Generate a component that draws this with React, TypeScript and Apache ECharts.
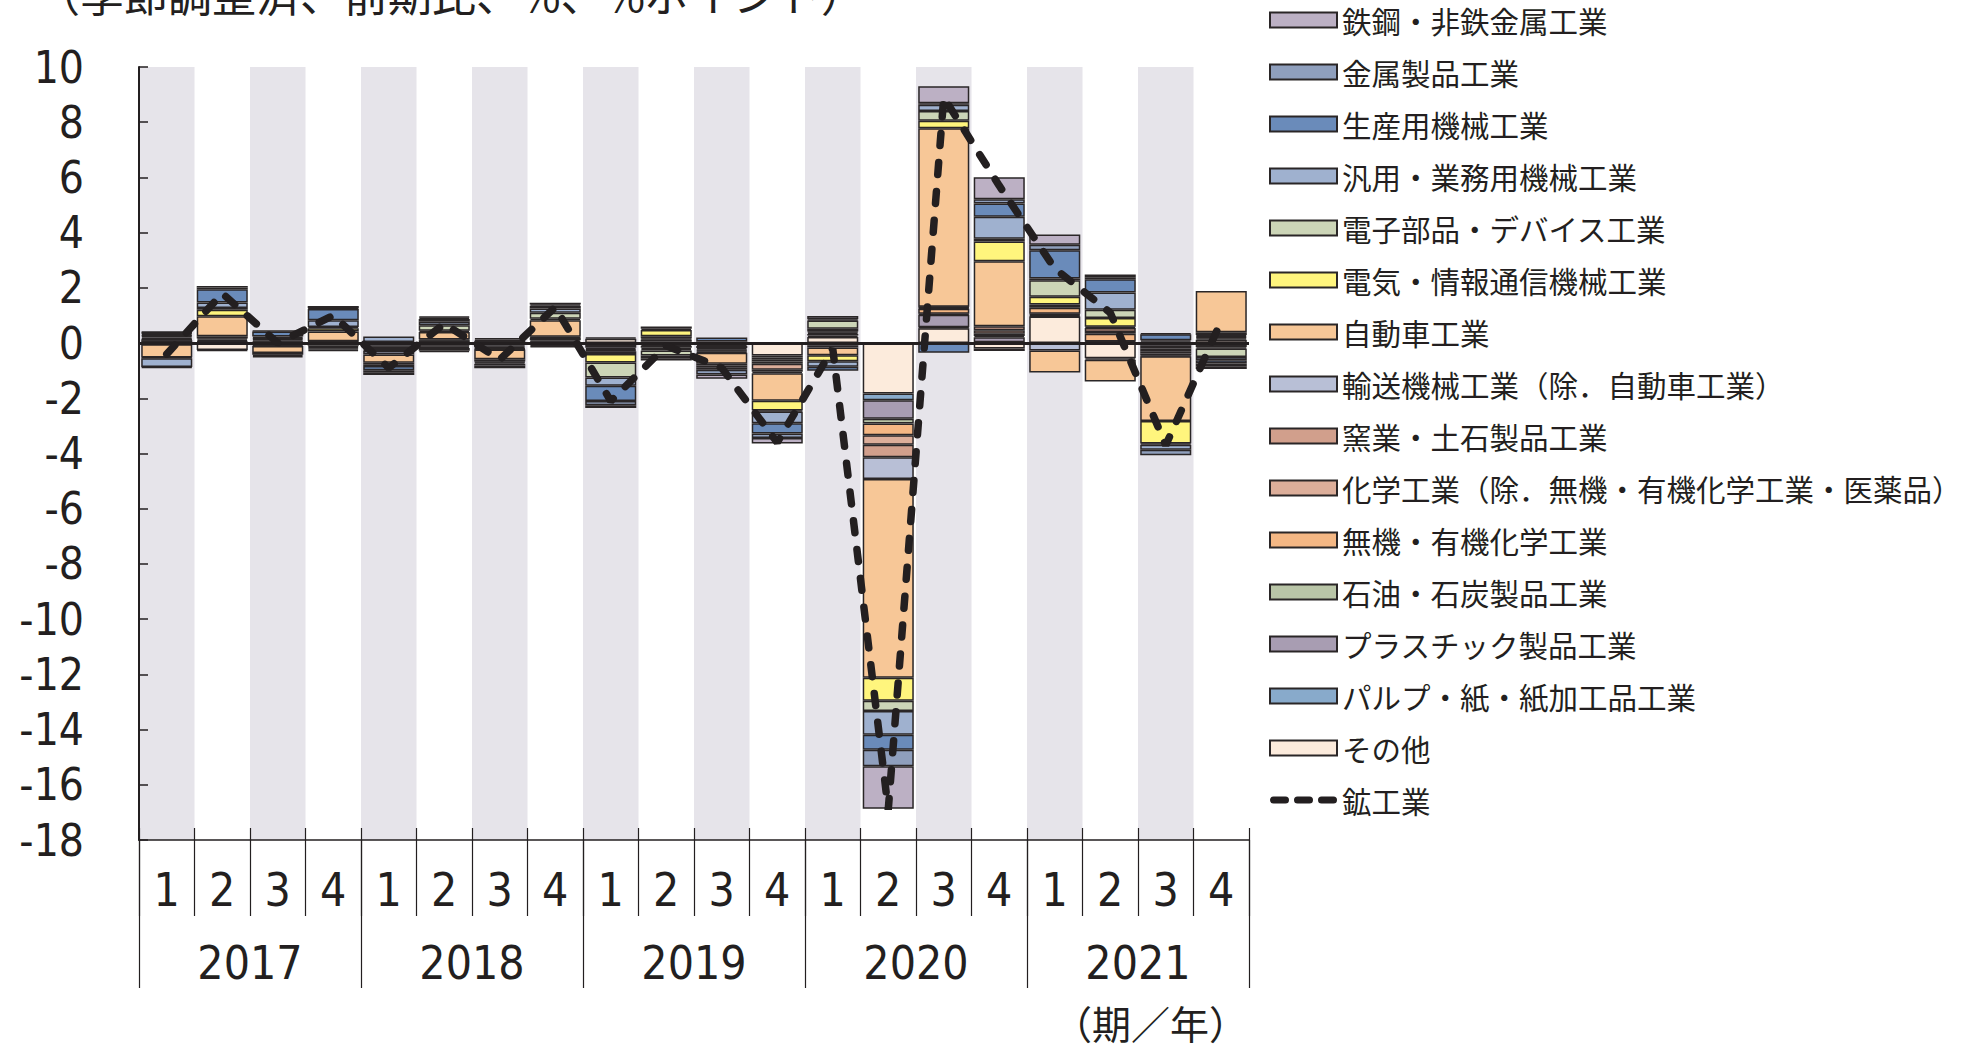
import React, { useEffect, useRef } from "react";
import * as echarts from "echarts";

// ---- Data ----
const years = ["2017", "2018", "2019", "2020", "2021"];
const quarterNames = ["1", "2", "3", "4"];

// Stacking order (closest to zero first)
const sonota = [0.10, -0.25, -0.04, -0.10, -0.08, -0.05, 0.08, -0.06, 0.16, -0.05, -0.06, -0.45, 0.22, -1.83, 0.54, -0.20, 0.96, -0.55, 0.05, 0.12];
const pulp = [0.02, 0.02, 0.02, 0.02, 0.04, -0.03, -0.03, 0.02, -0.05, -0.05, -0.05, -0.07, 0.05, -0.24, 0.03, 0.03, 0.03, -0.05, 0.05, -0.05];
const plastic = [0.03, 0.02, -0.03, -0.04, -0.05, -0.05, -0.05, -0.05, -0.06, -0.07, -0.07, -0.08, 0.06, -0.67, 0.46, 0.18, 0.04, 0.03, -0.10, 0.05];
const petroleum = [-0.04, 0.03, 0.03, -0.05, -0.05, -0.05, -0.05, 0.03, -0.06, -0.05, -0.05, -0.07, 0.05, -0.17, 0.03, 0.05, 0.03, 0.03, -0.10, 0.04];
const inorganic = [0.05, 0.05, -0.04, -0.05, -0.05, -0.10, -0.05, 0.05, -0.05, 0.05, -0.04, -0.08, -0.10, -0.43, 0.18, 0.08, 0.22, 0.28, -0.10, 0.04];
const chemical = [0.05, 0.05, 0.05, 0.03, -0.03, 0.10, 0.05, 0.10, -0.04, 0.08, -0.04, -0.22, -0.06, -0.34, 0.03, 0.12, 0.06, 0.06, -0.08, 0.04];
const ceramic = [0.03, 0.08, 0.05, 0.02, -0.03, 0.03, -0.03, 0.03, -0.04, 0.04, -0.04, -0.07, 0.04, -0.46, 0.03, 0.15, 0.06, 0.15, -0.07, -0.10];
const transport = [0.05, -0.03, 0.04, -0.05, -0.12, -0.05, -0.02, -0.05, 0.04, -0.05, 0.06, -0.05, 0.10, -0.78, 0.02, -0.09, -0.27, 0.04, -0.03, 0.10];
const automobile = [-0.48, 0.72, -0.25, 0.35, -0.30, 0.27, -0.36, 0.60, -0.10, 0.08, -0.40, -1.00, -0.28, -7.20, 6.46, 2.35, -0.80, -0.79, -2.34, 1.50];
const electrical = [-0.03, 0.24, -0.06, 0.12, -0.06, 0.05, -0.08, 0.05, -0.30, 0.22, -0.06, -0.35, -0.22, -0.84, 0.27, 0.72, 0.28, 0.32, -0.82, -0.05];
const electronic = [0.03, 0.06, -0.05, 0.04, -0.06, 0.20, -0.03, 0.22, -0.55, -0.18, -0.08, -0.04, 0.30, -0.37, 0.36, 0.10, 0.60, 0.30, -0.04, -0.30];
const generalMachinery = [-0.32, 0.20, 0.05, 0.25, 0.20, 0.12, -0.05, 0.15, -0.30, 0.05, -0.08, -0.42, -0.20, -0.86, 0.22, 0.80, 0.06, 0.62, -0.18, -0.12];
const productionMachinery = [0.03, 0.48, 0.18, 0.40, -0.15, 0.10, 0.05, 0.10, -0.55, 0.08, 0.14, -0.38, -0.14, -0.54, -0.35, 0.48, 1.02, 0.48, 0.22, -0.12];
const metalProducts = [-0.03, 0.06, 0.03, 0.03, -0.08, 0.05, -0.06, 0.05, -0.15, -0.10, -0.17, -0.16, 0.04, -0.60, 0.06, 0.15, 0.20, 0.07, -0.20, -0.10];
const steel = [0.03, 0.06, -0.05, 0.08, -0.10, 0.04, -0.10, 0.06, -0.10, -0.08, -0.15, -0.20, 0.12, -1.54, 0.61, 0.80, 0.37, 0.10, 0.04, -0.10];
const miningManufacturing = [-0.4, 1.8, 0.0, 1.0, -0.9, 0.7, -0.6, 1.3, -2.1, -0.1, -0.9, -3.6, -0.2, -16.9, 8.9, 5.7, 2.7, 1.1, -3.7, 0.8];

const yTicks = { min: -18, max: 10, interval: 2 };

const barSeriesDefs: [string, number[], string][] = [
  ["その他", sonota, "#fcebdc"],
  ["パルプ・紙・紙加工品工業", pulp, "#88aacb"],
  ["プラスチック製品工業", plastic, "#a89db2"],
  ["石油・石炭製品工業", petroleum, "#b9c5a7"],
  ["無機・有機化学工業", inorganic, "#f4b784"],
  ["化学工業（除．無機・有機化学工業・医薬品）", chemical, "#dcae9a"],
  ["窯業・土石製品工業", ceramic, "#d19f8c"],
  ["輸送機械工業（除．自動車工業）", transport, "#b8bfd6"],
  ["自動車工業", automobile, "#f7c797"],
  ["電気・情報通信機械工業", electrical, "#fff57d"],
  ["電子部品・デバイス工業", electronic, "#ccd5b7"],
  ["汎用・業務用機械工業", generalMachinery, "#9fb1cf"],
  ["生産用機械工業", productionMachinery, "#6a8bba"],
  ["金属製品工業", metalProducts, "#8f9fbd"],
  ["鉄鋼・非鉄金属工業", steel, "#bcb0c4"],
];
const lineName = "鉱工業";

const INK = "#231f20";
const NUM_FONT = "'Liberation Sans Narrow', 'Arial Narrow', 'DejaVu Sans Condensed', 'Noto Sans CJK JP', sans-serif";
const JP_FONT = "'Noto Sans CJK JP', sans-serif";

// Legend icon for the dashed line: three rounded dashes inside a 67x15 box
const DASH_ICON =
  "path://M0,0L0,0M67,15L67,15" +
  "M3.5,4H15.5A3.5,3.5,0,0,1,15.5,11H3.5A3.5,3.5,0,0,1,3.5,4Z" +
  "M27.5,4H39.5A3.5,3.5,0,0,1,39.5,11H27.5A3.5,3.5,0,0,1,27.5,4Z" +
  "M51.5,4H63.5A3.5,3.5,0,0,1,63.5,11H51.5A3.5,3.5,0,0,1,51.5,4Z";

export default function App() {
  const ref = useRef<HTMLDivElement>(null);

  useEffect(() => {
    if (!ref.current) return;
    const chart = echarts.init(ref.current, null, { renderer: "svg" });
    const categories = years.flatMap((y) => quarterNames.map((q) => `${y}-${q}`));

    const bars = barSeriesDefs.map(([name, data, color]) => ({
      type: "bar",
      name,
      stack: "total",
      data,
      barWidth: "92%",
      itemStyle: { color, borderColor: "#2a2627", borderWidth: 1.5 },
      emphasis: { disabled: true },
      silent: true,
      z: 2,
    }));

    const legendData: any[] = barSeriesDefs
      .slice()
      .reverse()
      .map(([name]) => ({ name, icon: "rect" }));
    legendData.push({ name: lineName, icon: DASH_ICON, itemStyle: { color: INK, borderWidth: 0 } });

    const option: any = {
      animation: false,
      grid: { left: 139, right: 733, top: 67, bottom: 211, containLabel: false },
      legend: {
        orient: "vertical",
        left: 1264,
        top: 0,
        itemWidth: 67,
        itemHeight: 15,
        itemGap: 22,
        itemTextGap: 8,
        selectedMode: false,
        textStyle: { fontSize: 29.5, lineHeight: 30, fontFamily: JP_FONT, color: INK },
        data: legendData,
      },
      xAxis: [
        {
          type: "category",
          data: categories,
          position: "bottom",
          axisLine: { show: true, onZero: false, lineStyle: { color: INK, width: 1.5 } },
          axisTick: { show: true, inside: true, length: 12, lineStyle: { color: INK, width: 1.2 } },
          axisLabel: {
            formatter: (v: string) => v.split("-")[1],
            fontSize: 46,
            margin: 27,
            color: INK,
            fontFamily: NUM_FONT,
          },
          splitArea: { show: true, areaStyle: { color: ["#e6e4ea", "rgba(255,255,255,0)"] } },
          splitLine: { show: false },
        },
        {
          type: "category",
          data: categories,
          position: "bottom",
          axisLine: { show: false, onZero: false },
          axisTick: { show: true, inside: false, length: 76, lineStyle: { color: INK, width: 1.2 } },
          axisLabel: { show: false },
          splitLine: { show: false },
        },
        {
          type: "category",
          data: years,
          position: "bottom",
          axisLine: { show: false, onZero: false },
          axisTick: { show: true, inside: false, length: 148, lineStyle: { color: INK, width: 1.2 } },
          axisLabel: { fontSize: 46, margin: 100, color: INK, fontFamily: NUM_FONT },
          splitLine: { show: false },
        },
      ],
      yAxis: {
        type: "value",
        min: yTicks.min,
        max: yTicks.max,
        interval: yTicks.interval,
        axisLine: { show: true, lineStyle: { color: INK, width: 2 } },
        axisTick: { show: true, inside: true, length: 9, lineStyle: { color: INK, width: 1.5 } },
        axisLabel: { fontSize: 44, margin: 55, color: INK, fontFamily: NUM_FONT },
        splitLine: { show: false },
      },
      series: [
        ...bars,
        {
          type: "line",
          name: lineName,
          data: miningManufacturing,
          symbol: "none",
          silent: true,
          z: 5,
          itemStyle: { color: INK },
          lineStyle: { color: INK, width: 7.5, type: [12, 17], cap: "round" },
          markLine: {
            silent: true,
            symbol: "none",
            label: { show: false },
            lineStyle: { color: INK, width: 3, type: "solid" },
            data: [{ yAxis: 0 }],
          },
        },
      ],
      graphic: [
        {
          type: "text",
          x: 36,
          y: -7,
          style: {
            text: "（季節調整済、前期比、%、%ポイント）",
            fontSize: 44,
            fontFamily: JP_FONT,
            fill: INK,
            align: "left",
            verticalAlign: "middle",
          },
        },
        {
          type: "text",
          x: 1248,
          y: 1022,
          style: {
            text: "（期／年）",
            fontSize: 39,
            fontFamily: JP_FONT,
            fill: INK,
            align: "right",
            verticalAlign: "middle",
          },
        },
      ],
    };

    chart.setOption(option);
    return () => chart.dispose();
  }, []);

  return (
    <div
      ref={ref}
      style={{ position: "fixed", left: 0, top: 0, width: 1982, height: 1051, background: "#fff" }}
    />
  );
}
